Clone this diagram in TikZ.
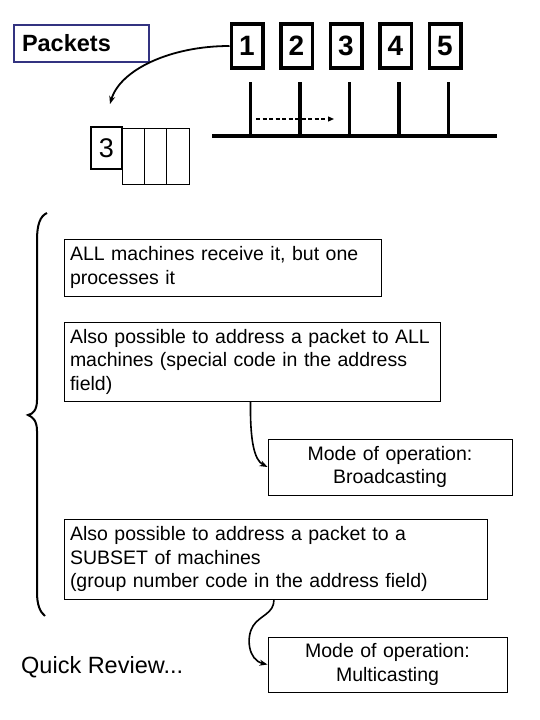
\documentclass[tikz,border=0pt]{standalone}
\usepackage{fontspec}
\setmainfont{Liberation Sans}
\usetikzlibrary{arrows.meta}
\definecolor{pktblue}{RGB}{51,51,128}
\tikzset{
  txtbox/.style={draw, line width=1pt, inner xsep=6pt, inner ysep=0pt, align=left,
    font=\fontsize{19.5}{23.5}\selectfont},
  modebox/.style={txtbox, align=center},
  pkt/.style={draw, line width=3.5pt, minimum width=31.5pt, minimum height=44pt, inner sep=0pt,
    font=\bfseries\fontsize{28}{28}\selectfont},
  cellbox/.style={draw, line width=0.8pt, minimum width=22pt, minimum height=56pt, inner sep=0pt},
  conn/.style={line width=1.6pt, -{Stealth[length=8pt,width=6pt]}},
  busline/.style={line width=3.5pt},
}
\begin{document}
\begin{tikzpicture}[x=1pt,y=-1pt]
\useasboundingbox (0,0) rectangle (540,720);
% Packets label
\node[draw=pktblue, line width=2.5pt, minimum width=135pt, minimum height=37pt, inner xsep=8pt,
  text width=119pt, align=left, font=\bfseries\fontsize{23.5}{23.5}\selectfont] (packets) at (81.5,43.5) {Packets};
% packet boxes
\foreach \i in {1,...,5} {
  \node[pkt] (p\i) at ({247+49.5*(\i-1)},46) {\i};
}
% bus
\coordinate (busL) at (212,136);
\coordinate (busR) at (497,136);
\draw[line width=4pt] (busL) -- (busR);
\foreach \i in {1,...,5} {
  \coordinate (t\i) at ({250.5+49.5*(\i-1)},82);
  \coordinate (b\i) at ({250.5+49.5*(\i-1)},136);
  \draw[busline] (t\i) -- (b\i);
}
% dashed arrow
\coordinate (dA) at (256,119);
\coordinate (dB) at (334,119);
\draw[line width=1.2pt, dash pattern=on 4pt off 2.5pt, -{Triangle[length=6pt,width=5pt]}] (dA) -- (dB);
% small packet
\node[cellbox] (c1) at (133,156) {};
\node[cellbox] (c2) at (155,156) {};
\node[cellbox, minimum width=23pt] (c3) at (177.5,156) {};
\node[draw, fill=white, line width=1.4pt, minimum width=31pt, minimum height=42pt, inner sep=0pt,
  font=\fontsize{27}{27}\selectfont] (s3) at (106.5,148) {3};
% curved arrow
\coordinate (arrEnd) at (110,104);
\draw[line width=1.8pt, -{Stealth[length=8pt,width=6pt]}] (p1.west) .. controls (170,46) and (120,70) .. (arrEnd);
% brace
\draw[line width=2pt] (47,213) .. controls (40,216) and (37,225) .. (37,240) -- (37,400)
  .. controls (37,410) and (33,414) .. (28,415) .. controls (33,417) and (37,421) .. (37,431)
  -- (37,592) .. controls (37,605) and (40,612) .. (45,616);
% text boxes
\node[txtbox, text width=305pt, minimum height=57pt] (A) at (222.5,267.5)
  {ALL machines receive it, but one\\processes it};
\node[txtbox, text width=364pt, minimum height=79pt] (B) at (252,361.5)
  {Also possible to address a packet to ALL\\machines (special code in the address\\field)};
\node[modebox, text width=232pt, minimum height=56pt] (bc) at (390,467)
  {Mode of operation:\\Broadcasting};
\node[txtbox, text width=411pt, minimum height=80pt] (C) at (275.5,559)
  {Also possible to address a packet to a\\SUBSET of machines\\(group number code in the address field)};
\node[modebox, text width=227pt, minimum height=55pt] (mc) at (387.5,664.5)
  {Mode of operation:\\Multicasting};
\node[anchor=west, inner sep=0pt, font=\fontsize{23.5}{23.5}\selectfont] (qr) at (21,667) {Quick Review...};
% connectors
\draw[conn] ([xshift=-1.5pt]B.south) .. controls (250,440) and (254,460) .. (bc.west);
\draw[conn] ([xshift=-1.5pt]C.south) .. controls (274,614) and (260,615) .. (253,626)
  .. controls (246,637) and (248,660) .. (mc.west);
\end{tikzpicture}
\end{document}
